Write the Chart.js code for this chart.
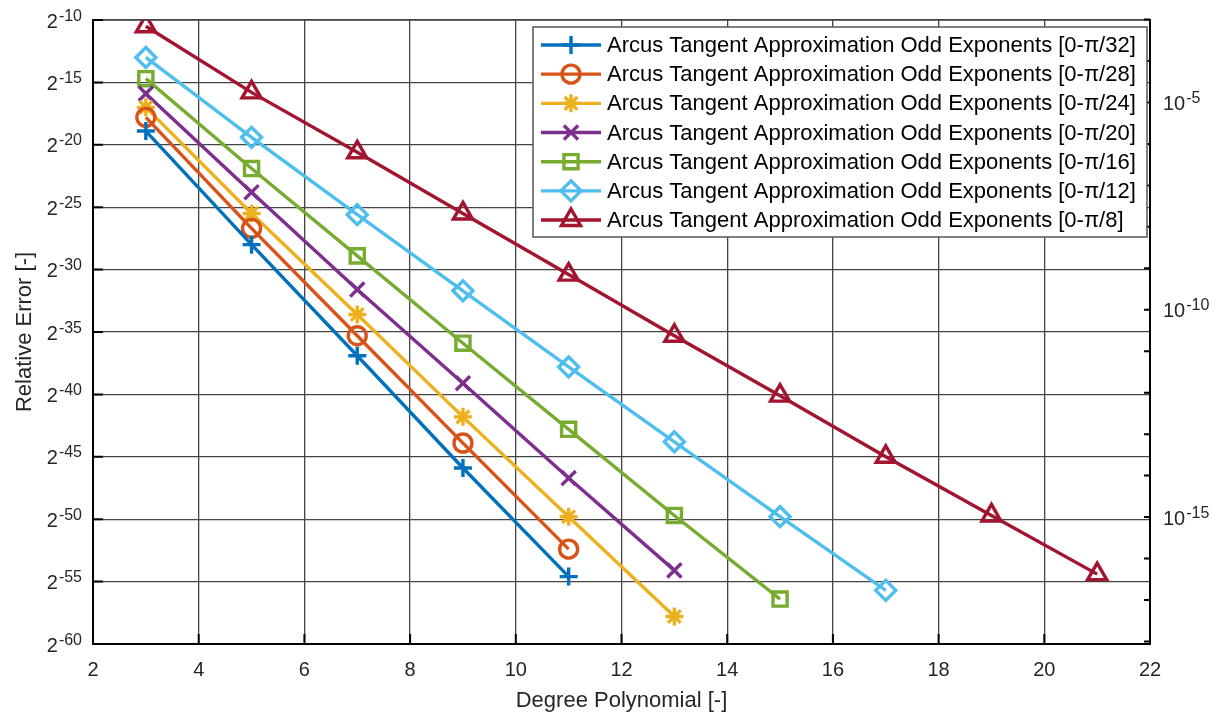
<!DOCTYPE html>
<html>
<head>
<meta charset="utf-8">
<script src="https://cdn.jsdelivr.net/npm/chart.js@4.4.1/dist/chart.umd.min.js"></script>
<style>
  html, body { margin: 0; padding: 0; background: #fff; }
  #wrap { width: 1218px; height: 714px; position: relative; }
</style>
</head>
<body>
<div id="wrap"><canvas id="err"></canvas></div>
<script>
// polynomial degrees (odd exponents only)
const DEGREES = [3, 5, 7, 9, 11, 13, 15, 17, 19, 21];

// log2 of the max relative error, one list per interval
const ERR_PI32 = [-18.9, -28.0, -36.9, -45.9, -54.6];
const ERR_PI28 = [-17.8, -26.7, -35.3, -43.9, -52.4];
const ERR_PI24 = [-17.0, -25.5, -33.6, -41.8, -49.8, -57.8];
const ERR_PI20 = [-15.9, -23.8, -31.6, -39.1, -46.7, -54.1];
const ERR_PI16 = [-14.7, -21.9, -28.9, -35.9, -42.8, -49.7, -56.4];
const ERR_PI12 = [-13.0, -19.4, -25.6, -31.7, -37.8, -43.8, -49.8, -55.7];
const ERR_PI8  = [-10.5, -15.8, -20.6, -25.5, -30.4, -35.3, -40.1, -45.0, -49.7, -54.4];

const INTERVALS = ['\u03c0/32', '\u03c0/28', '\u03c0/24', '\u03c0/20', '\u03c0/16', '\u03c0/12', '\u03c0/8'];

const X_TICKS = [2, 4, 6, 8, 10, 12, 14, 16, 18, 20, 22];
const Y_EXP_TICKS = [-10, -15, -20, -25, -30, -35, -40, -45, -50, -55, -60];
// right axis: powers of ten, only some of them labelled
const DECADES = [-3, -4, -5, -6, -7, -8, -9, -10, -11, -12, -13, -14, -15, -16, -17, -18];
const DECADE_LABELS = [-5, -10, -15];

const STYLES = [
  { color: '#0072BD', marker: 'cross',    r: 9 },
  { color: '#D95319', marker: 'circle',   r: 9 },
  { color: '#EDB120', marker: 'star',     r: 9 },
  { color: '#7E2F8E', marker: 'crossRot', r: 10 },
  { color: '#77AC30', marker: 'rect',     r: 10 },
  { color: '#4DBEEE', marker: 'rectRot',  r: 10 },
  { color: '#A2142F', marker: 'triangle', r: 11 }
];

const SERIES = [ERR_PI32, ERR_PI28, ERR_PI24, ERR_PI20, ERR_PI16, ERR_PI12, ERR_PI8];

const TXT = '#262626';
const FONT = '"Liberation Sans", Arial, Helvetica, sans-serif';
const LW = 3.4;

const datasets = SERIES.map((vals, i) => ({
  label: 'Arcus Tangent Approximation Odd Exponents [0-' + INTERVALS[i] + ']',
  data: vals.map((v, j) => ({ x: DEGREES[j], y: v })),
  showLine: true,
  borderColor: STYLES[i].color,
  borderWidth: LW,
  pointStyle: STYLES[i].marker,
  pointRadius: STYLES[i].r,
  pointBorderWidth: LW,
  pointBorderColor: STYLES[i].color,
  pointBackgroundColor: 'rgba(0,0,0,0)'
}));

// 2^n style label: base plus raised exponent
function powLabel(ctx, base, exp, x, y, align) {
  const e = String(exp);
  ctx.font = '20px ' + FONT;
  const bw = ctx.measureText(base).width;
  ctx.font = '16px ' + FONT;
  const ew = ctx.measureText(e).width;
  const x0 = align === 'right' ? x - bw - ew - 1 : x;
  ctx.textAlign = 'left';
  ctx.textBaseline = 'alphabetic';
  ctx.font = '20px ' + FONT;
  ctx.fillText(base, x0, y + 7.5);
  ctx.font = '16px ' + FONT;
  ctx.fillText(e, x0 + bw + 1, y + 0.5);
}

const decor = {
  id: 'decor',
  afterDraw(chart) {
    const { ctx, chartArea: a, scales } = chart;
    const sx = scales.x, sy = scales.y, sy2 = scales.y2;
    ctx.save();

    // top edge of the box
    ctx.strokeStyle = '#444';
    ctx.lineWidth = 1.5;
    ctx.beginPath();
    ctx.moveTo(a.left, a.top);
    ctx.lineTo(a.right, a.top);
    ctx.stroke();

    // inward ticks
    ctx.strokeStyle = '#000';
    ctx.lineWidth = 2;
    ctx.beginPath();
    Y_EXP_TICKS.forEach(t => {
      const y = sy.getPixelForValue(t);
      ctx.moveTo(a.left, y); ctx.lineTo(a.left + 10, y);
    });
    X_TICKS.forEach(t => {
      const x = sx.getPixelForValue(t);
      ctx.moveTo(x, a.bottom); ctx.lineTo(x, a.bottom - 10);
    });
    DECADES.forEach(d => {
      const y = sy2.getPixelForValue(d * Math.log2(10));
      ctx.moveTo(a.right, y); ctx.lineTo(a.right - 6, y);
    });
    ctx.stroke();

    ctx.fillStyle = TXT;
    // left axis labels
    Y_EXP_TICKS.forEach(t => {
      powLabel(ctx, '2', t, 82, sy.getPixelForValue(t), 'right');
    });
    // right axis labels
    DECADE_LABELS.forEach(d => {
      powLabel(ctx, '10', d, 1163, sy2.getPixelForValue(d * Math.log2(10)), 'left');
    });
    // bottom labels
    ctx.font = '20px ' + FONT;
    ctx.textAlign = 'center';
    ctx.textBaseline = 'alphabetic';
    X_TICKS.forEach(t => ctx.fillText(String(t), sx.getPixelForValue(t), 676));

    // axis titles
    ctx.font = '22px ' + FONT;
    ctx.fillText('Degree Polynomial [-]', (a.left + a.right) / 2, 707);
    ctx.save();
    ctx.translate(31, (a.top + a.bottom) / 2);
    ctx.rotate(-Math.PI / 2);
    ctx.fillText('Relative Error [-]', 0, 0);
    ctx.restore();

    // legend box
    const lx = 533, ly = 27, lw = 614, lh = 210;
    ctx.fillStyle = '#fff';
    ctx.fillRect(lx, ly, lw, lh);
    ctx.strokeStyle = '#555';
    ctx.lineWidth = 1.5;
    ctx.strokeRect(lx, ly, lw, lh);
    chart.data.datasets.forEach((ds, i) => {
      const y = 45 + i * 29.17;
      ctx.strokeStyle = ds.borderColor;
      ctx.lineWidth = LW;
      ctx.beginPath();
      ctx.moveTo(541, y); ctx.lineTo(601, y);
      ctx.stroke();
      ctx.fillStyle = 'rgba(0,0,0,0)';
      Chart.helpers.drawPoint(ctx, {
        pointStyle: ds.pointStyle, radius: ds.pointRadius, borderWidth: LW, rotation: 0
      }, 571, y);
      ctx.fillStyle = '#000';
      ctx.font = '22px ' + FONT;
      ctx.textAlign = 'left';
      ctx.textBaseline = 'middle';
      ctx.fillText(ds.label, 607, y + 1);
    });
    ctx.restore();
  }
};

new Chart(document.getElementById('err'), {
  type: 'scatter',
  data: { datasets },
  options: {
    responsive: true,
    maintainAspectRatio: false,
    animation: false,
    layout: { padding: { top: 20, left: 0, right: 0, bottom: 0 } },
    plugins: { legend: { display: false }, tooltip: { enabled: false } },
    scales: {
      x: {
        type: 'linear', min: 2, max: 22,
        ticks: { stepSize: 2, display: false },
        grid: { color: '#444', lineWidth: 1.3, drawTicks: false },
        border: { color: '#000', width: 2 },
        afterFit: s => { s.height = 70; }
      },
      y: {
        type: 'linear', min: -60, max: -10,
        ticks: { stepSize: 5, display: false },
        grid: { color: '#444', lineWidth: 1.3, drawTicks: false },
        border: { color: '#000', width: 2 },
        afterFit: s => { s.width = 93; }
      },
      y2: {
        type: 'linear', position: 'right', min: -60, max: -10,
        ticks: { display: false },
        grid: { drawOnChartArea: false, drawTicks: false },
        border: { color: '#000', width: 2 },
        afterFit: s => { s.width = 68; }
      }
    }
  },
  plugins: [decor]
});
</script>
</body>
</html>
